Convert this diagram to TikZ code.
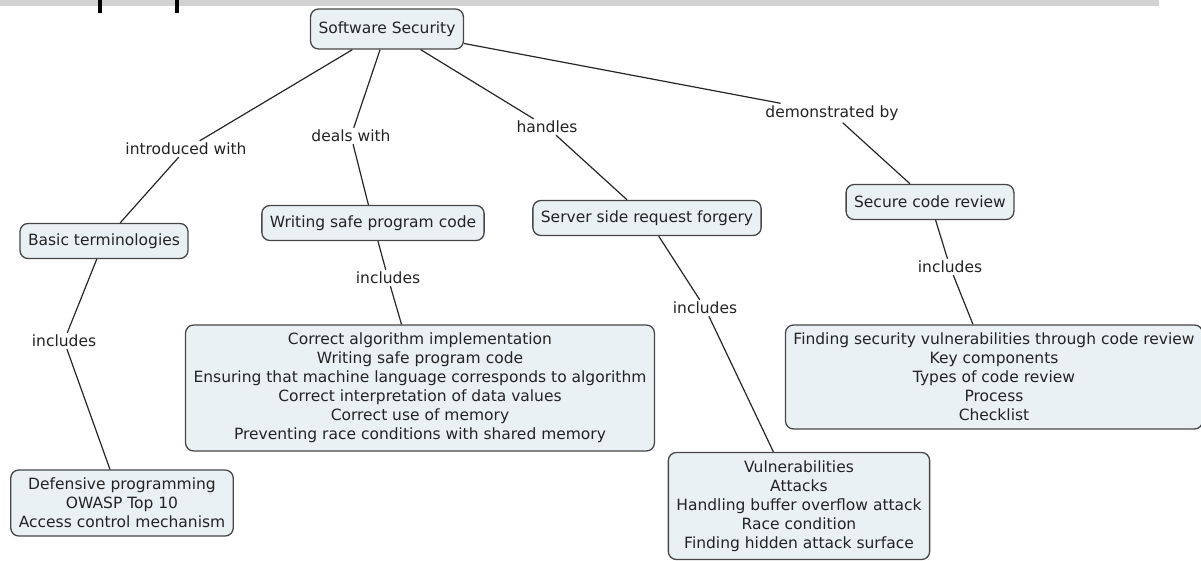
\documentclass[tikz,border=0pt]{standalone}
\usepackage{fontspec}
\setmainfont{DejaVu Sans}
\usepackage{tikz}
\usetikzlibrary{positioning}

\definecolor{conceptfill}{RGB}{234,241,245}
\definecolor{conceptline}{RGB}{70,70,70}
\definecolor{textgray}{RGB}{35,35,35}
\definecolor{bandgray}{RGB}{210,210,210}

\begin{document}
\begin{tikzpicture}[x=1pt, y=-1pt,
  concept/.style={draw=conceptline, line width=1.3pt, fill=conceptfill, rounded corners=8pt,
    align=center, inner xsep=8pt, inner ysep=8pt, minimum height=35pt, text=textgray,
    font=\fontsize{15.5}{19}\selectfont},
  linkphrase/.style={fill=white, inner sep=2pt, text=textgray, font=\fontsize{15.5}{19}\selectfont},
  connector/.style={line width=1.2pt, black!85}]
\useasboundingbox (0,0) rectangle (1201,561);

% Cut-off title band
\fill[bandgray] (0,0) rectangle (1159,6);
\fill[black] (98,0) rectangle (102,13);
\fill[black] (175,0) rectangle (179,13);

% Concepts
\node[concept, minimum height=40pt] (security) at (387,29) {Software Security};
\node[concept] (basics) at (104,241) {Basic terminologies};
\node[concept] (safecode) at (373,223) {Writing safe program code};
\node[concept] (ssrf) at (647,218) {Server side request forgery};
\node[concept] (review) at (930,202) {Secure code review};

\node[concept] (basiclist) at (122,503) {Defensive programming\\OWASP Top 10\\Access control mechanism};
\node[concept] (codelist) at (420,388) {Correct algorithm implementation\\Writing safe program code\\Ensuring that machine language corresponds to algorithm\\Correct interpretation of data values\\Correct use of memory\\Preventing race conditions with shared memory};
\node[concept] (ssrflist) at (799,506) {Vulnerabilities\\Attacks\\Handling buffer overflow attack\\Race condition\\Finding hidden attack surface};
\node[concept] (reviewlist) at (994,377) {Finding security vulnerabilities through code review\\Key components\\Types of code review\\Process\\Checklist};

% Linking phrases
\node[linkphrase] (introduced) at (186,149) {introduced with};
\node[linkphrase] (deals) at (351,136) {deals with};
\node[linkphrase] (handles) at (547,127) {handles};
\node[linkphrase] (demonstrated) at (832,113) {demonstrated by};
\node[linkphrase] (inclbasic) at (64,341) {includes};
\node[linkphrase] (inclcode) at (388,278) {includes};
\node[linkphrase] (inclssrf) at (705,308) {includes};
\node[linkphrase] (inclreview) at (950,267) {includes};

% Connectors
\draw[connector] (security) -- (introduced) -- (basics);
\draw[connector] (security) -- (deals) -- (safecode);
\draw[connector] (security) -- (handles) -- (ssrf);
\draw[connector] (security) -- (demonstrated) -- (review);
\draw[connector] (basics) -- (inclbasic) -- (basiclist);
\draw[connector] (safecode) -- (inclcode) -- (codelist);
\draw[connector] (ssrf) -- (inclssrf) -- (ssrflist);
\draw[connector] (review) -- (inclreview) -- (reviewlist);

\end{tikzpicture}
\end{document}
